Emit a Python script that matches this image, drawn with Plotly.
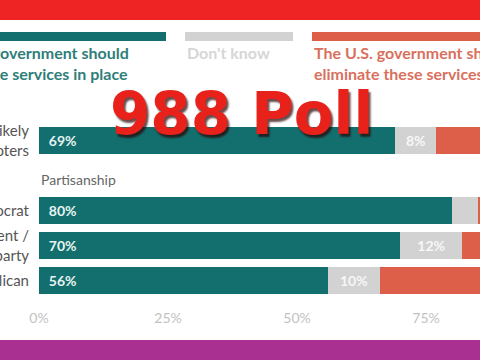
import plotly.graph_objects as go

# ---- data ----
groups = ["Likely<br>voters", "Democrat", "Independent /<br>third party", "Republican"]
group_pos = [0, 2, 3, 4]
keep = [69, 80, 70, 56]
dont_know = [8, 5, 12, 10]
eliminate = [23, 15, 18, 34]
tick_vals = [0, 25, 50, 75]
tick_text = ["0%", "25%", "50%", "75%"]
legend_names = ["The U.S. government should keep these services in place",
                "Don't know",
                "The U.S. government should eliminate these services"]
section_label = "Partisanship"
overlay_title = "988 Poll"

TEAL = "#136f6d"
GREY = "#d2d2d2"
RED = "#dd5f4a"

W, H = 480, 360
L, R, T, B = 39, 0, 120, 52
PW, PH = W - L - R, H - T - B


def px(x):
    return (x - L) / PW


def py(y):
    return (H - B - y) / PH


fig = go.Figure()
fig.add_trace(go.Bar(
    y=group_pos, x=keep, orientation="h", marker_color=TEAL, width=0.77,
    text=["\u00a0\u00a0" + f"{v}%" for v in keep], textposition="inside",
    insidetextanchor="start",
    insidetextfont=dict(family="Lato", size=14, color="#e6f4f2", weight="bold"),
    hoverinfo="skip", name=legend_names[0]))
fig.add_trace(go.Bar(
    y=group_pos, x=dont_know, orientation="h", marker_color=GREY, width=0.77,
    text=[f"{v}%" if v >= 8 else "" for v in dont_know], textposition="inside",
    insidetextanchor="middle",
    insidetextfont=dict(family="Lato", size=14, color="#f7f7f7", weight="bold"),
    hoverinfo="skip", name=legend_names[1]))
fig.add_trace(go.Bar(
    y=group_pos, x=eliminate, orientation="h", marker_color=RED, width=0.77,
    textposition="none",
    hoverinfo="skip", name=legend_names[2]))

shapes = [
    # top red band
    dict(type="rect", xref="paper", yref="paper", x0=px(0), x1=px(W), y0=py(0), y1=py(20),
         fillcolor="#ee2424", line_width=0, layer="above"),
    # bottom magenta band
    dict(type="rect", xref="paper", yref="paper", x0=px(0), x1=px(W), y0=py(340), y1=py(H),
         fillcolor="#a92f90", line_width=0, layer="above"),
    # legend swatches
    dict(type="rect", xref="paper", yref="paper", x0=px(0), x1=px(166), y0=py(32), y1=py(41),
         fillcolor=TEAL, line_width=0),
    dict(type="rect", xref="paper", yref="paper", x0=px(185), x1=px(293), y0=py(32), y1=py(41),
         fillcolor=GREY, line_width=0),
    dict(type="rect", xref="paper", yref="paper", x0=px(312), x1=px(W), y0=py(32), y1=py(41),
         fillcolor=RED, line_width=0),
]

lf = dict(family="Lato", size=16, weight="bold")
annotations = [
    dict(text="The U.S. government should", x=px(131), y=py(53), xanchor="right", yanchor="middle",
         font=dict(**lf, color="#2f7e7a")),
    dict(text="keep these services in place", x=px(130), y=py(73), xanchor="right", yanchor="middle",
         font=dict(**lf, color="#2f7e7a")),
    dict(text=legend_names[1], x=px(185), y=py(53), xanchor="left", yanchor="middle",
         font=dict(**lf, color="#d6d6d6")),
    dict(text="The U.S. government should", x=px(312), y=py(53), xanchor="left", yanchor="middle",
         font=dict(**lf, color="#d9705e")),
    dict(text="eliminate these services", x=px(312), y=py(73), xanchor="left", yanchor="middle",
         font=dict(**lf, color="#d9705e")),
    dict(text=section_label, x=px(39), y=py(179), xanchor="left", yanchor="middle",
         font=dict(family="Lato", size=14, color="#666666")),
    dict(text=overlay_title, x=px(241), y=py(114), xanchor="center", yanchor="middle",
         font=dict(family="DejaVu Sans", size=58, weight="bold", color="#e8221b",
                   shadow="2px 3px 2px rgba(40,0,0,0.7)")),
]
for a in annotations:
    a.update(xref="paper", yref="paper", showarrow=False)

fig.update_layout(
    template="none",
    width=W, height=H,
    margin=dict(l=L, r=R, t=T, b=B, pad=0),
    paper_bgcolor="white", plot_bgcolor="white",
    barmode="stack", bargap=0.2, showlegend=False,
    font=dict(family="Lato"),
    xaxis=dict(range=[0, (W - L) / 5.16], tickvals=tick_vals, ticktext=tick_text,
               showgrid=False, zeroline=False, showline=False, ticks="",
               tickfont=dict(family="Lato", size=14, color="#c2c2c2"), automargin=False),
    yaxis=dict(range=[(308 - 140.5) / 35, -20.5 / 35], tickvals=group_pos, ticktext=groups,
               showgrid=False, zeroline=False, showline=False, ticks="",
               ticklabelstandoff=9,
               tickfont=dict(family="Lato", size=15, color="#555555"), automargin=False),
    shapes=shapes, annotations=annotations,
)

fig.write_html("out.html", config={"displayModeBar": False},
               post_script="document.body.style.margin='0';")
